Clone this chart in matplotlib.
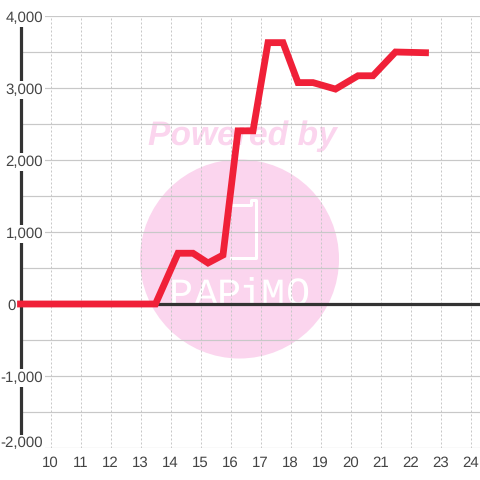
import matplotlib
matplotlib.use("Agg")
import matplotlib.pyplot as plt
from matplotlib.patches import Circle

plt.rcParams['font.family'] = ['Liberation Sans', 'DejaVu Sans']
plt.rcParams['text.hinting'] = 'no_hinting'

# values
hours = [9, 13.5, 14.25, 14.75, 15.25, 15.75, 16.25, 16.75, 17.25, 17.75, 18.25, 18.75,
         19.5, 20.25, 20.75, 21.5, 22.5]
values = [0, 0, 705, 705, 570, 680, 2405, 2405, 3630, 3630, 3075, 3075,
          2985, 3170, 3170, 3500, 3490]
x_ticks = list(range(10, 25))
y_ticks = [-2000, -1000, 0, 1000, 2000, 3000, 4000]
y_minor = [-1500, -500, 500, 1500, 2500, 3500]
y_labels = ['-2,000', '-1,000', '0', '1,000', '2,000', '3,000', '4,000']

px = 1 / 100 * 72  # one pixel in points at dpi 100
grey = '#c8c8c8'
dark = '#333333'
pink = '#fbd5ee'

fig = plt.figure(figsize=(4.8, 4.8), dpi=100, facecolor='white')

# watermark, in pixel coordinates, under the chart
bg = fig.add_axes([0, 0, 1, 1], zorder=0)
bg.set_xlim(0, 480)
bg.set_ylim(480, 0)
bg.axis('off')
bg.add_patch(Circle((239.5, 259), 99.5, color=pink, lw=0))
bg.text(242, 136, 'Powered by', color=pink, fontsize=24.2, fontweight='bold',
        fontstyle='italic', ha='center', va='center')
bg.plot([231, 251, 251, 256, 256, 251, 231], [205, 205, 200, 200, 258, 258, 258],
        color='white', lw=3 * px, solid_joinstyle='round')
for letter, x in zip('PAPiMO', [181, 206, 229, 250, 272.5, 298.5]):
    bg.text(x, 306, letter, color='white', fontsize=29, ha='center', va='baseline',
            family='Liberation Mono')

ax = fig.add_axes([20.5 / 480, 32 / 480, 459.5 / 480, 432 / 480], zorder=1)
ax.patch.set_alpha(0)
ax.set_xlim(9, 24 + 9.5 / 30)
ax.set_ylim(-2000, 4000)

ax.set_xticks(x_ticks)
ax.set_yticks(y_ticks)
ax.set_yticklabels([])
ax.set_yticks(y_minor, minor=True)
ax.set_axisbelow(True)
ax.grid(axis='y', which='both', color=grey, lw=1.2 * px)
ax.grid(axis='x', color='#c8c8c8', lw=1 * px, linestyle=(0, (2, 2)))
ax.tick_params(which='both', length=0)
ax.tick_params(axis='x', pad=5.5, labelsize=10.8, labelcolor='#444444')

for name in ['top', 'right', 'bottom']:
    ax.spines[name].set_visible(False)
ax.spines['left'].set_color(dark)
ax.spines['left'].set_linewidth(3.2 * px)
ax.spines['left'].set_bounds(-1850, 4000)

ax.axhline(0, color=dark, lw=3.2 * px, zorder=2)

# the labels sit on top of the axis line and the grid, with a white box
for v, lab in zip(y_ticks, y_labels):
    right = 16 if v == 0 else 43
    dy = 6 if v == -2000 else -0.7
    ax.annotate(lab, (0, v), xycoords=('axes fraction', 'data'),
                xytext=((right - 20.5) * px, dy * px), textcoords='offset points',
                ha='right', va='center_baseline', fontsize=10.8, color='#444444',
                zorder=2.8, annotation_clip=False,
                bbox=dict(facecolor='white', edgecolor='none', boxstyle='square,pad=0.12'))

ax.plot(hours, values, color='#f02038', lw=6.8 * px, solid_capstyle='projecting',
        solid_joinstyle='miter', clip_on=False, zorder=3)

fig.savefig('out.png', dpi=100)
